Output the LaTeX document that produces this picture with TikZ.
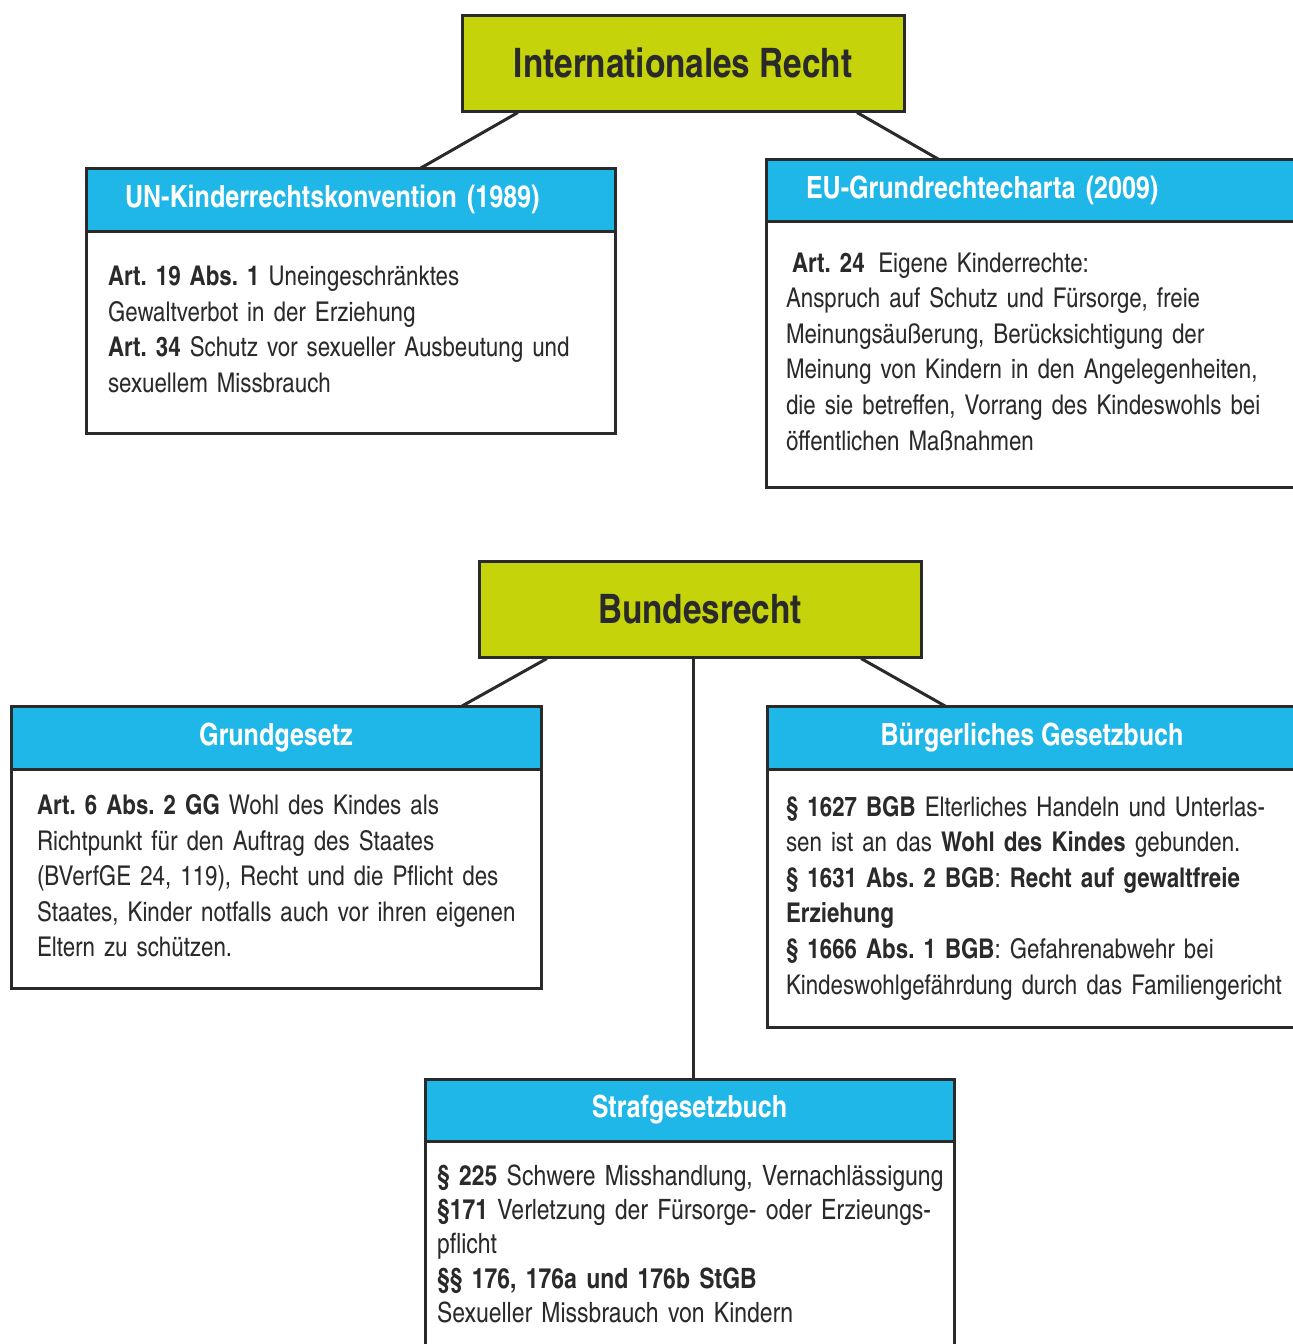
\documentclass[tikz,border=0pt]{standalone}
\usepackage{fontspec}
\setmainfont{texgyreheroscn}[Extension=.otf,UprightFont=*-regular,BoldFont=*-bold,ItalicFont=*-italic,BoldItalicFont=*-bolditalic]
\usetikzlibrary{calc}
\definecolor{lawlime}{RGB}{197,211,11}
\definecolor{lawblue}{RGB}{31,182,232}
\definecolor{lawgray}{RGB}{42,42,42}
\frenchspacing
\newcommand{\bodylines}[1]{\begin{tabular}{@{}l@{}}#1\end{tabular}}

\begin{document}
\begin{tikzpicture}[x=0.5pt,y=-0.5pt,
  level/.style={draw=lawgray,line width=1.5pt,fill=lawlime,text=lawgray,font=\fontsize{20.3}{24}\selectfont\bfseries,minimum width=221pt,minimum height=48pt},
  head/.style={draw=lawgray,line width=1.5pt,outer sep=0pt,fill=lawblue,text=white,font=\fontsize{15.3}{18}\selectfont\bfseries,minimum height=31.5pt,anchor=north west},
  body/.style={draw=lawgray,line width=1.5pt,outer sep=0pt,fill=white,text=lawgray,font=\fontsize{13.6}{17.8}\selectfont,align=left,anchor=north west},
  link/.style={draw=lawgray,line width=1.5pt}]
  \fill[white] (0,0) rectangle (1293,1344);
  \useasboundingbox (0,0) rectangle (1293,1344);

  \node[level] (ir) at (683,63) {Internationales Recht};
  \node[head,minimum width=264.5pt,inner xsep=19.5pt,text width=225.5pt,align=left] (unh) at (86,168) {UN-Kinderrechtskonvention (1989)};
  \node[body,minimum height=101pt,inner xsep=11pt,text width=242.5pt] (unb) at (unh.south west) {\bodylines{\textbf{Art. 19 Abs. 1} Uneingeschränktes\\
    Gewaltverbot in der Erziehung\\
    \textbf{Art. 34} Schutz vor sexueller Ausbeutung und\\
    sexuellem Missbrauch}};
  \node[head,minimum width=265.5pt,minimum height=31pt,inner xsep=20pt,text width=225.5pt,align=left] (euh) at (766,159) {EU-Grundrechtecharta (2009)};
  \node[body,minimum height=133pt,inner xsep=10pt,text width=245.5pt] (eub) at (euh.south west) {\bodylines{\hspace*{3pt}\textbf{Art. 24}\enspace Eigene Kinderrechte:\\
    Anspruch auf Schutz und Fürsorge, freie\\
    Meinungsäußerung, Berücksichtigung der\\
    Meinung von Kindern in den Angelegenheiten,\\
    die sie betreffen, Vorrang des Kindeswohls bei\\
    öffentlichen Maßnahmen}};
  \draw[link] ($(ir.south west)!0.129!(ir.south east)$) -- ($(unh.north west)!0.633!(unh.north east)$);
  \draw[link] ($(ir.south west)!0.891!(ir.south east)$) -- ($(euh.north west)!0.324!(euh.north east)$);

  \node[level] (br) at (700,609) {Bundesrecht};
  \node[head,minimum width=265pt,align=center] (ggh) at (11,706) {Grundgesetz};
  \node[body,minimum height=109.5pt,inner xsep=13pt,text width=239pt] (ggb) at (ggh.south west) {\bodylines{\textbf{Art. 6 Abs. 2 GG} Wohl des Kindes als\\
    Richtpunkt für den Auftrag des Staates\\
    (BVerfGE 24, 119), Recht und die Pflicht des\\
    Staates, Kinder notfalls auch vor ihren eigenen\\
    Eltern zu schützen.}};
  \node[head,minimum width=265pt,align=center] (bgbh) at (767,706) {Bürgerliches Gesetzbuch};
  \node[body,minimum height=129pt,inner xsep=9.5pt,text width=246pt] (bgbb) at (bgbh.south west) {\bodylines{\textbf{§ 1627 BGB} Elterliches Handeln und Unterlas-\\
    sen ist an das \textbf{Wohl des Kindes} gebunden.\\
    \textbf{§ 1631 Abs. 2 BGB}: \textbf{Recht auf gewaltfreie}\\
    \textbf{Erziehung}\\
    \textbf{§ 1666 Abs. 1 BGB}: Gefahrenabwehr bei\\
    Kindeswohlgefährdung durch das Familiengericht}};
  \node[head,minimum width=264.5pt,minimum height=31pt,align=center] (sgh) at (425,1079) {Strafgesetzbuch};
  \node[body,minimum height=106pt,inner xsep=6pt,text width=252.5pt,font=\fontsize{14}{17.1}\selectfont] (sgb) at (sgh.south west) {\bodylines{\textbf{§ 225} Schwere Misshandlung, Vernachlässigung\\
    \textbf{§171} Verletzung der Fürsorge- oder Erzieungs-\\
    pflicht\\
    \textbf{§§ 176, 176a und 176b StGB}\\
    Sexueller Missbrauch von Kindern}};
  \draw[link] ($(br.south west)!0.156!(br.south east)$) -- ($(ggh.north west)!0.851!(ggh.north east)$);
  \draw[link] ($(br.south west)!0.862!(br.south east)$) -- ($(bgbh.north west)!0.336!(bgbh.north east)$);
  \draw[link] ($(br.south)+(-7,0)$) -- ($(sgh.north)+(3.5,0)$);
\end{tikzpicture}
\end{document}
